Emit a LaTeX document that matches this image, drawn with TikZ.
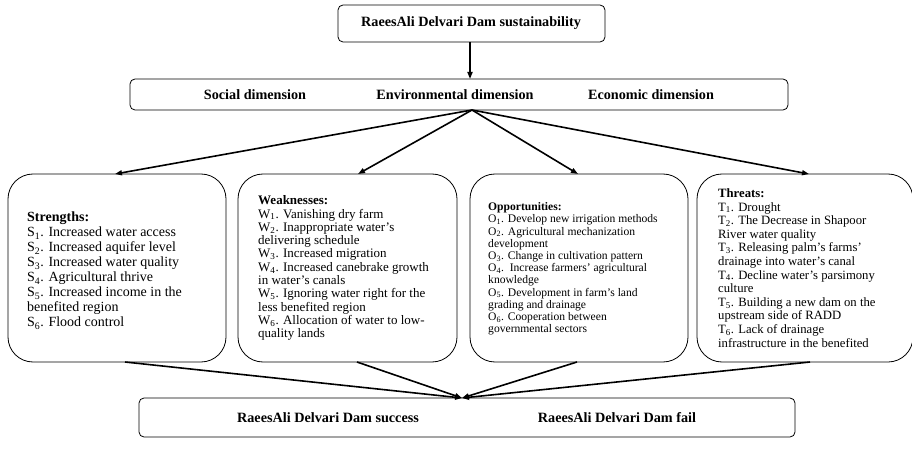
\documentclass[tikz,border=0pt]{standalone}
\usepackage{fontspec}
\setmainfont{Liberation Serif}
\usetikzlibrary{arrows.meta}
\begin{document}
\begin{tikzpicture}[x=1pt,y=-1pt,
  bigbox/.style={draw, line width=0.8pt, rounded corners=25pt, inner sep=0pt, outer sep=0pt},
  hbox/.style={draw, line width=0.8pt, rounded corners=5pt, inner sep=0pt, outer sep=0pt},
  arr/.style={-{Triangle[length=7pt,width=5pt]}, line width=1.6pt},
  lbl/.style={font=\bfseries\fontsize{14.2}{16}\selectfont, inner sep=0pt},
  body/.style={anchor=north west, align=left, inner sep=0pt}]
\useasboundingbox (0,0) rectangle (912,462);

% top
\node[hbox, minimum width=267pt, minimum height=37pt] (top) at (471.5,23.5) {};
\node[lbl] (toptxt) at (471,23.5) {RaeesAli Delvari Dam sustainability};

% dimensions
\node[hbox, minimum width=658pt, minimum height=31pt] (dim) at (459,94.5) {};
\node[lbl] (soc) at (255,94.5) {Social dimension};
\node[lbl] (env) at (455,94.5) {Environmental dimension};
\node[lbl] (eco) at (651,94.5) {Economic dimension};
\coordinate (fan) at (472,110);

% SWOT boxes
\node[bigbox, minimum width=218pt, minimum height=188pt] (S) at (117,268) {};
\node[bigbox, minimum width=219pt, minimum height=188pt] (W) at (347.5,268) {};
\node[bigbox, minimum width=218pt, minimum height=188pt] (O) at (579,268) {};
\node[bigbox, minimum width=216pt, minimum height=188pt] (T) at (805,268) {};

\node[body, font=\fontsize{14}{15}\selectfont] (St) at (27,212) {\textbf{Strengths:}\\
S\textsubscript{1}. Increased water access\\
S\textsubscript{2}. Increased aquifer level\\
S\textsubscript{3}. Increased water quality\\
S\textsubscript{4}. Agricultural thrive\\
S\textsubscript{5}. Increased income in the\\
benefited region\\
S\textsubscript{6}. Flood control};

\node[body, font=\fontsize{13}{13.3}\selectfont] (Wt) at (258,195.5) {\textbf{Weaknesses:}\\
W\textsubscript{1}. Vanishing dry farm\\
W\textsubscript{2}. Inappropriate water's\\
delivering schedule\\
W\textsubscript{3}. Increased migration\\
W\textsubscript{4}. Increased canebrake growth\\
in water's canals\\
W\textsubscript{5}. Ignoring water right for the\\
less benefited region\\
W\textsubscript{6}. Allocation of water to low-\\
quality lands};

\node[body, font=\fontsize{11.6}{12.2}\selectfont] (Ot) at (488,202.5) {\textbf{Opportunities:}\\
O\textsubscript{1}. Develop new irrigation methods\\
O\textsubscript{2}. Agricultural mechanization\\
development\\
O\textsubscript{3}. Change in cultivation pattern\\
O\textsubscript{4}.\ \ Increase farmers' agricultural\\
knowledge\\
O\textsubscript{5}. Development in farm's land\\
grading and drainage\\
O\textsubscript{6}. Cooperation between\\
governmental sectors};

\node[body, font=\fontsize{12.7}{13.6}\selectfont] (Tt) at (718,188.5) {\textbf{Threats:}\\
T\textsubscript{1}. Drought\\
T\textsubscript{2}. The Decrease in Shapoor\\
River water quality\\
T\textsubscript{3}. Releasing palm's farms'\\
drainage into water's canal\\
T\textsubscript{4}. Decline water's parsimony\\
culture\\
T\textsubscript{5}. Building a new dam on the\\
upstream side of RADD\\
T\textsubscript{6}. Lack of drainage\\
infrastructure in the benefited};

% bottom
\node[hbox, minimum width=656pt, minimum height=39pt] (bot) at (467,417.5) {};
\node[lbl] (succ) at (328,417.5) {RaeesAli Delvari Dam success};
\node[lbl] (fail) at (617,417.5) {RaeesAli Delvari Dam fail};
\coordinate (conv) at (462,398);

% connectors
\draw[arr] ([xshift=-1.5pt]top.south) -- ([xshift=-1.5pt]top.south |- dim.north);
\draw[arr] (fan) -- ([xshift=-2pt]S.north);
\draw[arr] (fan) -- ([xshift=10.5pt]W.north);
\draw[arr] (fan) -- ([xshift=-1pt]O.north);
\draw[arr] (fan) -- ([xshift=4pt]T.north);
\draw[arr] ([xshift=8pt]S.south) -- (conv);
\draw[arr] ([xshift=9.5pt]W.south) -- (conv);
\draw[arr] ([xshift=-2pt]O.south) -- (conv);
\draw[arr] ([xshift=5pt]T.south) -- (conv);
\end{tikzpicture}
\end{document}
